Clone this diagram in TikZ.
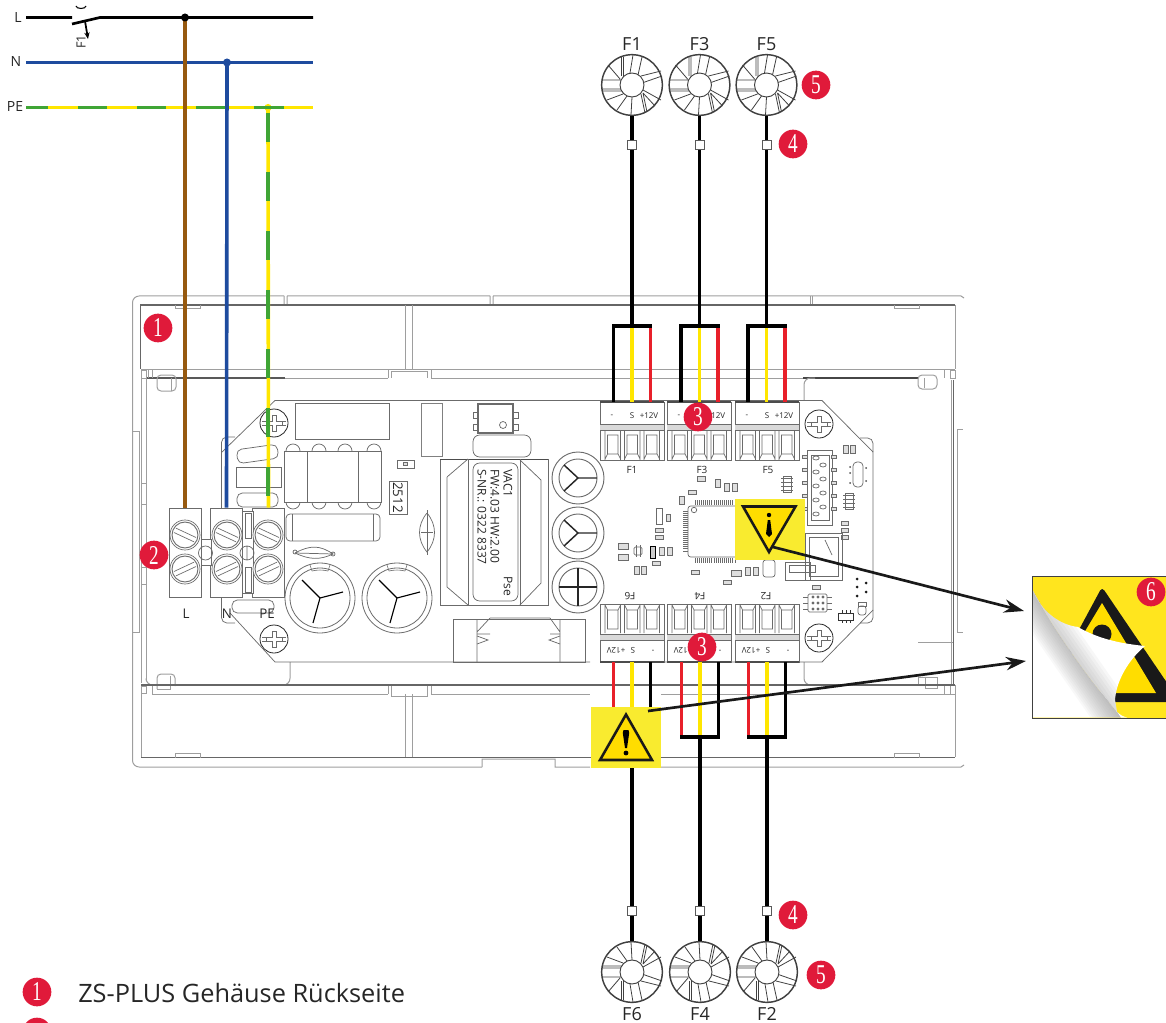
\documentclass[tikz,border=0pt]{standalone}
\usepackage{fontspec}
\setmainfont{Open Sans}
\newfontfamily\badgefont{Liberation Serif}
\usetikzlibrary{arrows.meta,calc}
\definecolor{hs}{gray}{0.62}
\definecolor{pcb}{gray}{0.42}
\definecolor{wbrown}{HTML}{96590F}
\definecolor{wblue}{HTML}{1E4B9E}
\definecolor{wgreen}{HTML}{3FA535}
\definecolor{wyellow}{HTML}{FFE600}
\definecolor{wred}{HTML}{E8202A}
\definecolor{badge}{HTML}{E01A3A}
\definecolor{warnbg}{HTML}{F9EB2F}
\definecolor{warntri}{HTML}{FFDD00}
\definecolor{stk}{HTML}{FFE51E}
\newcommand{\pxfont}[1]{\fontsize{#1}{#1}\selectfont}
\tikzset{
  housing/.style={draw=hs,line width=0.75pt},
  heavy/.style={draw=gray!80!black,line width=1pt},
  board/.style={draw=pcb,line width=0.55pt},
  cable/.style={line width=2.7pt},
  smdbox/.style={draw=pcb,line width=0.45pt,fill=gray!25},
  fanbody/.style={circle,draw=gray!50!black,line width=1.1pt,minimum size=45.5pt,inner sep=0pt},
  squareq/.style={rectangle,draw=gray!70!black,fill=white,line width=0.5pt,minimum size=6.6pt,inner sep=0pt},
  numb/.style={circle,fill=badge,minimum size=21.5pt,inner sep=0pt,text=white},
  lab/.style={inner sep=0pt,text=black!85},
  warnbox/.style={fill=warnbg},
  warnsign/.style={fill=warntri,draw=black!90,line width=1.9pt,line join=miter},
  pointer/.style={draw=black!90,line width=2pt,-{Stealth[length=15pt,width=10pt]}},
  termb/.style={rectangle,draw=pcb,line width=0.5pt,minimum width=24pt,minimum height=66.8pt,inner sep=0pt,fill=white},
  pics/fanblades/.style={code={
    \draw[draw=gray!50!black,line width=0.6pt]
      (-10.5,-28)--(-10.5,-9) (-8.5,-28)--(-8.5,-9) (-24,-20)--(-12,-6)
      (-30,-5)--(-10,-5) (-30,4)--(-10,4) (-30,6)--(-10,6)
      (-25,15)--(-9,9) (-15,25)--(-5,11)
      (-1,30)--(0,12) (13,28)--(9,9) (15,27)--(11,8)
      (29,15)--(11,5) (23,21)--(11,8)
      (30,-9)--(10,-2) (29,-14)--(9,-9)
      (10,-28)--(6,-10) (1,-30)--(-2,-12);
  }},
  pics/termblock/.style={code={
    \draw[draw=pcb,line width=0.6pt,fill=white] (0,0) rectangle (64,58);
    \fill[gray!30] (0,22) rectangle (64,28);
    \draw[draw=pcb,line width=0.6pt] (0,22)--(64,22) (0,28)--(64,28);
    \draw[draw=black!70,line width=0.9pt] (0,0)--(64,0);
    \foreach \u in {5,24.5,44}{
      \draw[draw=pcb,line width=0.5pt] (\u,29)--(\u,58) (\u+15.5,29)--(\u+15.5,58)
        (\u+2.5,33) rectangle (\u+13,52) (\u+2.5,52)--(\u,57) (\u+13,52)--(\u+15.5,57);
    }
  }},
  pics/pcbscrew/.style={code={
    \draw[draw=black!85,line width=0.6pt,fill=white] (0,0) circle (14);
    \draw[draw=pcb,line width=0.55pt] (-12,-2)--(-8,-2) (-12,2)--(-8,2) (12,-2)--(8,-2) (12,2)--(8,2)
      (-2,-8)--(2,-8)--(2,-2)--(8,-2)--(8,2)--(2,2)--(2,8)--(-2,8)--(-2,2)--(-8,2)--(-8,-2)--(-2,-2)--cycle;
  }},
  pics/clampscrew/.style={code={
    \draw[draw=pcb,line width=0.5pt,fill=white] (0,0) circle (15);
    \draw[draw=pcb,line width=0.7pt] (0,0) circle (13);
    \draw[draw=pcb,line width=0.5pt,rotate=#1] (-11,-2.4)--(11,-2.4) (-11,2.4)--(11,2.4);
  }},
  pics/bigcap/.style={code={
    \draw[draw=pcb,line width=0.6pt] (0,0) circle (35) (0,0) circle (30);
    \draw[draw=pcb,line width=0.45pt] (-10,-33) -- (-8,-27) (10,-33)--(8,-27) (-8,-27) arc (-104:-76:33);
    \draw[draw=black,line width=0.85pt] (0,0)--(-18,-18) (0,0)--(23,-6) (0,0)--(-7,25);
  }},
}
\newcommand{\smd}[4]{\filldraw[smdbox] ({#1-#3/2},{#2-#4/2}) rectangle ({#1+#3/2},{#2+#4/2});}
\newcommand{\num}[4]{\node[numb] (#1) at (#2,#3) {\badgefont\pxfont{17}\scalebox{0.85}[1.2]{#4}};}
\begin{document}
\begin{tikzpicture}[x=0.75pt,y=-0.75pt]
\useasboundingbox (0,0) rectangle (1166,1023);
\clip (0,0) rectangle (1166,1023);
%------ housing
\draw[housing,rounded corners=5pt] (284,296)--(132.5,296)--(132.5,767)--(482,767);
\draw[housing] (284,296)--(284,305) (287,296)--(287,305) (287,296)--(490,296) (490,296)--(490,305) (493,296)--(493,305) (493,296)--(961,296)--(964,298);
\draw[housing] (482,767)--(482,759)--(555,759)--(555,767)--(590,767) (661,767)--(961,767)--(964,765);
\draw[housing] (812,296)--(812,305) (810,296)--(810,305);
\draw[heavy] (140,305)--(955,305);
\draw[housing] (175,305)--(175,309)--(200,309)--(200,305);
\draw[housing] (894,305)--(894,309)--(919,309)--(919,305);
\draw[heavy] (140.5,305)--(140.5,369);
\draw[housing] (405,305)--(405,369) (412,305)--(412,369);
\draw[housing] (955,305)--(955,369);
% upper band
\draw[housing] (141,369.5)--(955,369.5);
\draw[line width=1pt,draw=gray!70!black] (146,378)--(285,378);
\draw[housing] (285,378)--(388,378);
\draw[housing] (388,369)--(388,378) (391,371)--(391,378) (427,371)--(427,378) (431,369)--(431,378) (391,371)--(427,371);
\draw[housing] (431,378)--(803,378);
\draw[line width=1pt,draw=gray!55!black] (803,378)--(918,378);
\draw[housing] (141,370) rectangle (146,378) (148,370)--(148,378) (152,370)--(152,378);
\draw[housing] (944,370)--(944,378) (950,370) rectangle (955,378);
% left rail
\draw[housing] (141,378)--(141,683);
\draw[housing] (146,378)--(146,680);
\draw[housing] (133,431)--(139,431)--(139,632)--(133,632);
\draw[housing] (141,483) rectangle (146,504) (141,567) rectangle (146,584);
\draw[housing,rounded corners=3pt] (157,375)--(157,391)--(176,391)--(176,375)--cycle;
\draw[housing] (171,378)--(171,391);
% right rail
\draw[housing] (951,380)--(951,684);
\draw[heavy] (953.5,380)--(953.5,684);
\draw[housing] (957,429)--(963,429) (957,429)--(957,632)--(963,632);
\draw[housing,rounded corners=3pt] (918,375)--(918,389)--(937,389)--(937,375)--cycle;
\draw[housing] (924,378)--(924,388);
\draw[housing] (918,642)--(953,642);
% left panel and right panel
\draw[housing,rounded corners=5pt] (146,680)--(146,685)--(290,685)--(290,662);
\draw[housing,rounded corners=5pt] (804,400)--(804,378)--(815,378);
\draw[housing,rounded corners=5pt] (804,662)--(804,685)--(815,685);
\draw[housing,rounded corners=3pt] (157,689)--(157,674)--(175,674)--(175,686);
\draw[housing] (157,689)--(170,689)--(170,676);
\draw[housing] (918,685)--(918,677)--(937,677)--(937,688)--(925,688)--(925,677);
% lower band
\draw[heavy] (141,685)--(955,685);
\draw[housing] (152,694)--(388,694) (431,694)--(590,694) (661,694)--(944,694);
\draw[housing] (141,686) rectangle (146,693) (152,686)--(152,694);
\draw[housing] (388,686)--(388,694) (391,686)--(391,696)--(427,696)--(427,686) (431,686)--(431,694);
\draw[housing] (944,686)--(944,694)--(955,694) (950,686)--(950,694);
\draw[housing] (141,693)--(141,757) (955,685)--(955,757);
\draw[housing] (405,694)--(405,757) (412,694)--(412,757);
\draw[heavy] (141,757.5)--(955,757.5);
\draw[housing] (175,757.5)--(175,753)--(200,753)--(200,757.5);
\draw[housing] (894,757.5)--(894,753)--(919,753)--(919,757.5);
%------ PCB outline
\draw[board] (222,452)--(275,400.5)--(822,400.5)--(873,452);
\draw[board] (230,613)--(275,662)--(590,662) (661,662)--(822,662)--(873,610);
\draw[board,rounded corners=4pt] (235,623)--(221.5,623)--(221.5,437)--(235,437);
\draw[board,rounded corners=4pt] (860,438)--(873,438)--(873,623)--(860,623);
% top-left parts
\draw[board] (295,403) rectangle (389,439);
\draw[board,draw=gray] (421,403) rectangle (442,456);
\draw[board,rounded corners=4pt,rotate around={8:(257,454)}] (237,447) rectangle (278,461);
\draw[board] (236,467) rectangle (281,487);
\draw[board,rounded corners=4pt] (237,493) rectangle (278,507);
% transformer small
\foreach \x in {293,319,345,374}{
  \draw[board] ({\x-7},451) arc (180:360:7);
  \draw[board] ({\x-7},502) arc (180:0:7);
}
\filldraw[board,fill=white] (284,451) rectangle (381,502);
\draw[board] (307,451)--(307,502) (358,451)--(358,502);
\draw[board,rounded corners=3pt,fill=white] (286,514) rectangle (380,541);
\draw[board] (292,514)--(292,541) (373,514)--(373,541);
\draw[board] (397,460) rectangle (414,468);
\smd{405.5}{464}{4}{3.5}
\draw[board] (389,481) rectangle (407,514);
\node[lab,rotate=-90] (t2512) at (398,497.5) {\pxfont{10}2512};
\draw[board] (427,513) .. controls (417,525) and (417,540) .. (427,552) .. controls (437,540) and (437,525) .. (427,513);
\draw[board] (421,532)--(433,532) (427,510)--(427,555);
\draw[board] (295,553) .. controls (310,545) and (320,545) .. (333,554) .. controls (320,560) and (310,560) .. (295,553);
\draw[board] (295,553)--(333,554);
\draw[board] (295,552) circle (2) (333,554) circle (2);
\pic at (320,598) {bigcap};
\pic at (397,598) {bigcap};
% big transformer
\draw[board] (440,459) rectangle (548,605);
\draw[draw=black!70,line width=0.7pt] (440,459)--(548,459);
\draw[board] (468,459)--(468,605) (520,459)--(520,605);
\draw[board] (447,477)--(468,459) (447,477)--(447,587)--(468,605);
\draw[board] (541,480)--(520,460) (541,480)--(541,583)--(520,605);
\draw[board,rounded corners=5pt,fill=white] (473,463) rectangle (518,601);
\node[lab,rotate=-90,anchor=west] (tv1) at (508,469) {\pxfont{9}VAC1};
\node[lab,rotate=-90,anchor=west] (tv2) at (495,469) {\pxfont{9}FW:4.03 HW:2.00};
\node[lab,rotate=-90,anchor=west] (tv3) at (482,469) {\pxfont{9}S-NR.: 0322 8337};
\node[lab,rotate=-90,anchor=east] (tv4) at (508,596) {\pxfont{9}Pse};
% opto
\draw[board,line width=0.8pt] (478,404) rectangle (513,433);
\draw[board] (473,412) rectangle (478,418) (473,424) rectangle (478,430) (513,412) rectangle (518,418) (513,424) rectangle (518,430);
\draw[board] (503,425) circle (3.5);
\draw[board,rounded corners=5pt] (473,435) rectangle (531,457);
% three caps
\foreach \y/\n in {478/1,533/2}{
  \draw[board,line width=0.7pt] (578,\y) circle (26) (578,\y) circle (19);
  \draw[draw=gray!30!black,line width=1.1pt] (578,\y)--(564,{\y-13}) (578,\y)--(597,\y) (578,\y)--(564,{\y+13});
}
\draw[board,line width=0.7pt] (578,587) circle (26) (578,587) circle (19);
\draw[draw=gray!30!black,line width=1.1pt] (559,587)--(597,587) (578,568)--(578,606);
% bottom element
\draw[board] (453,619) rectangle (585,662);
\draw[board] (477,619)--(477,662) (560,619)--(560,662) (490,618)--(550,618) (477,632)--(490,618) (560,632)--(550,618);
\draw[board] (477,634)--(490,634) (550,634)--(560,634) (477,636)--(488,640)--(477,644) (560,636)--(549,640)--(560,644);
%------ chip and SMD
\foreach \i in {0,...,19}{
  \draw[draw=pcb,line width=0.5pt] ({695+\i*2.1},500)--({695+\i*2.1},505) ({695+\i*2.1},557.5)--({695+\i*2.1},562.5);
}
\foreach \i in {0,...,19}{
  \draw[draw=pcb,line width=0.5pt] (683,{511+\i*2.1})--(688,{511+\i*2.1});
}
\draw[board,rounded corners=2pt,fill=white] (688,506) rectangle (745,557);
\draw[board] (694,510) circle (2.7);
\smd{701}{479}{8}{5}\smd{718}{483}{5}{8}\smd{727}{487}{5}{8}\smd{735}{487}{5}{8}
\smd{692}{492}{8}{4}\smd{682}{500}{5}{8}
\filldraw[board,fill=white] (783,476) rectangle (791,492);
\foreach \i in {0,...,3}{\draw[draw=pcb,line width=0.4pt] (781,{478+\i*4})--(793,{478+\i*4});}
\smd{846}{449}{5}{8}\smd{853}{449}{5}{8}
\filldraw[board,fill=white] (845,493) rectangle (853,509);
\foreach \i in {0,...,3}{\draw[draw=pcb,line width=0.4pt] (843,{495+\i*4})--(855,{495+\i*4});}
\smd{845}{523}{7}{4}\smd{845}{530}{7}{4}\smd{845}{537}{7}{4}
\filldraw[board,fill=white] (656,508) rectangle (662,524);
\smd{668}{518}{4}{7}\smd{659}{530}{8}{4}\smd{659}{537}{8}{4}
\smd{623}{546}{10}{6}\smd{623}{557}{10}{6}
\draw[board,rounded corners=1pt] (634,547) rectangle (642,555);
\draw[board] (636,545)--(636,557) (640,545)--(640,557);
\filldraw[draw=black,fill=gray!40,line width=0.5pt] (650,546) rectangle (655,558);
\smd{662}{551}{5}{8}\smd{670}{551}{5}{8}\smd{656}{563}{8}{4}
\smd{637}{570}{5}{8}\smd{644}{570}{5}{8}\smd{695}{572}{8}{4}
\smd{736}{573}{10}{6}\smd{748}{571}{5}{8}\smd{756}{571}{5}{8}\smd{727}{582}{8}{4}
\draw[board,rounded corners=2pt] (763,560) rectangle (775,577);
% header
\draw[board] (807,450)--(832,450)--(832,525)--(807,525)--cycle (811,455) rectangle (829,520);
\foreach \y/\x in {458/816,465/823,472/816,479/823,486/816,493/823,500/816,507/823,514/816}{
  \draw[board] (\x,\y) ellipse (3.2 and 2);
}
\foreach \y in {457,470,483,496,509}{\smd{805}{\y}{5}{3}\smd{834}{\y}{5}{3}}
% crystal
\draw[board,rounded corners=3pt] (853,462) rectangle (863,487);
\foreach \p in {(850,467),(850,473),(850,483),(866,468),(866,481)}{\fill[gray!60!black] \p circle (1);}
% USB
\draw[board] (805,533) rectangle (842,580);
\draw[board] (809,537) rectangle (838,576);
\draw[board] (785,562) rectangle (810,580) (789,565) rectangle (815,572);
\draw[board] (825,540)--(832,555);
% misc
\draw[board,rounded corners=1pt] (808,594) rectangle (827,612);
\foreach \x in {813,818,823}{\foreach \y in {597,603,609}{\draw[board] (\x,\y) circle (1);}}
\foreach \y in {597,603,609}{\draw[board] (803,\y)--(808,\y) (827,\y)--(832,\y);}
\smd{816}{587}{8}{4}
\filldraw[board,fill=white,draw=black!80] (838,613) rectangle (853,620);
\foreach \x in {842,846,850}{\draw[draw=black!80,line width=0.5pt] (\x,610)--(\x,613) (\x,620)--(\x,623);}
\draw[board,rounded corners=2pt] (858,606) rectangle (866,615);
\draw[board] (858,602) rectangle (866,606);
\foreach \p in {(857,579),(866,583),(857,587),(866,592),(857,596)}{\fill[gray!20!black] \p circle (1.5);}
% PCB screws
\pic at (274,423) {pcbscrew};
\pic at (274,639) {pcbscrew};
\pic at (819,424) {pcbscrew};
\pic at (819,638) {pcbscrew};
% connector blocks
\pic at (600,402) {termblock};
\pic at (667,402) {termblock};
\pic at (735,402) {termblock};
\pic[yscale=-1] at (600,662) {termblock};
\pic[yscale=-1] at (667,662) {termblock};
\pic[yscale=-1] at (735,662) {termblock};
\foreach \n/\x/\lx in {1/600/632,3/667/702,5/735/768}{
  \node[lab] (mn\n) at ({\x+12},416) {\pxfont{6}-};
  \node[lab] (sg\n) at ({\x+32},416) {\pxfont{6}S};
  \node[lab] (vv\n) at ({\x+49},416) {\pxfont{6}+12V};
  \node[lab] (fl\n) at (\lx,470) {\pxfont{7.5}F\n};
}
\foreach \n/\x/\lx in {6/600/630,4/667/700,2/735/766}{
  \node[lab,rotate=180] (mn\n) at ({\x+53},650) {\pxfont{6}-};
  \node[lab,rotate=180] (sg\n) at ({\x+33},650) {\pxfont{6}S};
  \node[lab,rotate=180] (vv\n) at ({\x+16},650) {\pxfont{6}+12V};
  \node[lab,rotate=180] (fl\n) at (\lx,596) {\pxfont{7.5}F\n};
}
%------ clamps
\node[termb] (tL) at (185,552.5) {};
\node[termb] (tN) at (226.5,552.5) {};
\node[termb] (tP) at (268.5,552.5) {};
\draw[board,fill=white] (201,539) rectangle (211,565);
\draw[board] (205.5,553) circle (7);
\draw[board,fill=white] (242.5,511)--(253,511)--(253,593)--(242.5,593)--cycle;
\draw[board] (247,553) circle (7) (247,546)--(247,560);
\draw[board] (245,513) rectangle (251,538) (245,567) rectangle (251,592);
\foreach \x in {185,227,268}{
  \pic at (\x,535) {clampscrew=-25};
  \pic at (\x,569) {clampscrew=25};
}
\draw[board,rounded corners=4pt] (232,600) rectangle (274,613);
\node[lab] (lL) at (186,614) {\pxfont{10}L};
\node[lab] (lN) at (227,614) {\pxfont{10}N};
\node[lab] (lP) at (267,614) {\pxfont{10}PE};
%------ mains lines
\node[lab] (mL) at (18,17.5) {\pxfont{10.5}L};
\node[lab] (mN) at (16,62) {\pxfont{10.5}N};
\node[lab] (mP) at (15,107) {\pxfont{10.5}PE};
\node[lab,rotate=90] (mF) at (81,42) {\pxfont{9.5}F1};
\coordinate (lA) at (26,17.5);\coordinate (lB) at (72,17.5);\coordinate (lC) at (72,24);
\coordinate (lD) at (100,17.5);\coordinate (lE) at (313,17.5);
\coordinate (nA) at (26,62.5);\coordinate (nE) at (313,62.5);
\coordinate (pA) at (26,107.5);\coordinate (pE) at (313,107.5);
\coordinate (lJ) at (185,17.5);\coordinate (nJ) at (227,62.5);\coordinate (pJ) at (268,107.5);
\draw[line width=2pt] (lA)--(lB) (lC)--(lD)--(lE);
\draw[line width=1.3pt,-{Stealth[length=5pt,width=4pt]}] (85,21)--(88,39);
\draw[line width=0.8pt] (76,6) arc (180:0:5 and 2.5);
\draw[line width=2pt,wblue] (nA)--(nE);
\draw[line width=1.7pt,wyellow] (pA)--(pE);
\draw[line width=1.7pt,wgreen] (26,107.5)--(48,107.5) (78,107.5)--(107,107.5) (137,107.5)--(166,107.5) (196,107.5)--(225,107.5);
\draw[cable,wbrown] (lJ)--(tL.north);
\draw[cable,wblue] (nJ)--(tN.north);
\draw[cable,wyellow] (pJ)--(tP.north);
\draw[cable,wgreen,dash pattern=on 21.75pt off 22.5pt] (268,113)--(268,508);
\fill[wyellow] (pJ) circle (3.6);
\draw[line width=1.7pt,wgreen] (254,107.5)--(284,107.5);
\fill[black] (lJ) circle (4);
\fill[wblue] (nJ) circle (4);
%------ fans top
\foreach \n/\x in {1/632,3/699.5,5/766.5}{
  \node[fanbody] (fan\n) at (\x,85) {};
  \pic at (\x,85) {fanblades};
  \node[circle,fill=white,draw=gray!50!black,line width=0.7pt,minimum size=18pt,inner sep=0pt] (hub\n) at (\x,85) {};
  \node[lab] (ft\n) at (\x,44) {\pxfont{13.5}F\n};
  \coordinate (bar\n) at (\x,326);
  \coordinate (bk\n) at ({\x-18.5},326);
  \coordinate (yl\n) at (\x,326);
  \coordinate (rd\n) at ({\x+18.5},326);
  \coordinate (bkt\n) at ({\x-18.5},402);
  \coordinate (ylt\n) at (\x,402);
  \coordinate (rdt\n) at ({\x+18.5},402);
  \draw[cable,wyellow] (yl\n)--(ylt\n);
  \draw[cable,wred] (rd\n)--(rdt\n);
  \draw[cable,black] (bk\n)--(bkt\n);
  \draw[cable,black,line cap=rect] (bk\n)--(rd\n);
  \draw[cable,black] (fan\n.south)--(bar\n);
  \node[squareq] (sq\n) at (\x,145) {};
}
%------ fans bottom
\foreach \n/\x in {6/632,4/700,2/767}{
  \node[fanbody] (fan\n) at (\x,972) {};
  \pic[yscale=-1] at (\x,972) {fanblades};
  \node[circle,fill=white,draw=gray!50!black,line width=0.7pt,minimum size=18pt,inner sep=0pt] (hub\n) at (\x,972) {};
  \node[lab] (ft\n) at (\x,1014) {\pxfont{13.5}F\n};
  \coordinate (bar\n) at (\x,737);
  \coordinate (rd\n) at ({\x-18.5},737);
  \coordinate (yl\n) at (\x,737);
  \coordinate (bk\n) at ({\x+18.5},737);
  \coordinate (rdt\n) at ({\x-18.5},662);
  \coordinate (ylt\n) at (\x,662);
  \coordinate (bkt\n) at ({\x+18.5},662);
  \draw[cable,wyellow] (ylt\n)--(yl\n);
  \draw[cable,wred] (rdt\n)--(rd\n);
  \draw[cable,black] (bkt\n)--(bk\n);
  \draw[cable,black,line cap=rect] (bk\n)--(rd\n);
  \draw[cable,black] (bar\n)--(fan\n.north);
  \node[squareq] (sq\n) at (\x,911) {};
}
%------ warnings
\fill[warnbox] (735,499) rectangle (805,560);
\draw[warnsign] (743,506.5)--(795.5,506.5)--(769,552)--cycle;
\fill[black] (769,515) circle (2.2);
\fill[black] (767.8,520)--(770.2,520)--(772,534)--(769,537)--(766,534)--cycle;
\fill[warnbox] (591,707) rectangle (661,768);
\draw[warnsign] (626,714.5)--(652,760)--(600,760)--cycle;
\fill[black] (622.8,733)--(623.5,730)--(628.5,730)--(629.2,733)--(627,748)--(625,748)--cycle;
\fill[black] (626,753) circle (2.4);
%------ sticker
\node[rectangle,draw=black!75,line width=0.7pt,fill=stk,minimum width=100.5pt,minimum height=106.5pt,inner sep=0pt,anchor=north west] (stick) at (1032,576) {};
\fill[black!90,rounded corners=3pt] (1102,587)--(1180,702)--(1040,702)--cycle;
\fill[warntri] (1102,603)--(1156,693)--(1048,693)--cycle;
\fill[black!90] (1102,634) circle (9.5);
% the curled flap and the white page below it share one fold line
\begin{scope}
\clip (1033,591) .. controls (1060,640) and (1090,680) .. (1117,712) .. controls (1122,716) .. (1127,717.5) -- (1033,717.5) -- cycle;
\fill[white] (1030,585) rectangle (1130,720);
\foreach \d in {1,3,...,25}{
  \fill[gray,opacity=0.05] (1015,565)--(1135,738)--({1135-0.82*\d},{738+0.57*\d})--({1015-0.82*\d},{565+0.57*\d})--cycle;
}
\end{scope}
\begin{scope}
\clip (1033,591) .. controls (1042,612) and (1060,625) .. (1078,627) .. controls (1100,640) and (1125,644) .. (1145,646) .. controls (1128,660) and (1116,682) .. (1115,700) -- (1117,712) .. controls (1090,680) and (1060,640) .. (1033,591) -- cycle;
\fill[white] (1030,585) rectangle (1150,720);
\foreach \d in {-6,-3,...,30}{
  \fill[gray,opacity=0.06] (1000,570)--(1125,750)--({1125+0.82*\d},{750-0.57*\d})--({1000+0.82*\d},{570-0.57*\d})--cycle;
}
\end{scope}
%------ pointers
\coordinate (w1) at (773,547);\coordinate (w2) at (648,711);
\coordinate (s1) at (1024,611);\coordinate (s2) at (1026,661);
\draw[pointer] (w1)--(s1);
\draw[pointer] (w2)--(s2);
%------ badges
\num{b1}{158}{328}{1}
\num{b2}{154}{555}{2}
\num{b3}{698}{417}{3}
\num{b3b}{702}{647}{3}
\num{b4}{793}{144}{4}
\num{b5}{816}{85}{5}
\num{b4b}{793}{915}{4}
\num{b5b}{821}{975}{5}
\num{b6}{1151}{592}{6}
\num{b7}{37}{992}{1}
\num{b8}{37}{1032}{2}
\node[lab,anchor=west] (leg1) at (78,993) {\pxfont{19}ZS-PLUS Gehäuse Rückseite};
\end{tikzpicture}
\end{document}
